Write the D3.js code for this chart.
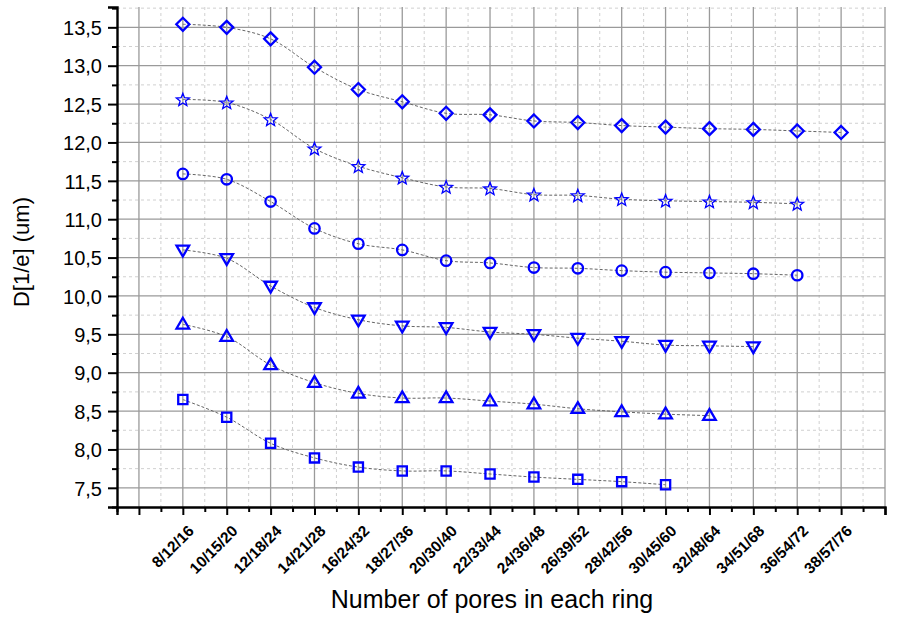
<!DOCTYPE html>
<html><head><meta charset="utf-8">
<script src="https://cdn.jsdelivr.net/npm/d3@7"></script>
<style>body{margin:0;background:#fff}svg{display:block}</style>
</head><body><svg id="c" width="900" height="619"></svg>
<script>
const categories = ["8/12/16","10/15/20","12/18/24","14/21/28","16/24/32","18/27/36","20/30/40","22/33/44","24/36/48","26/39/52","28/42/56","30/45/60","32/48/64","34/51/68","36/54/72","38/57/76"];
const seriesDiamond = [13.54,13.50,13.35,12.98,12.69,12.53,12.38,12.36,12.28,12.26,12.22,12.20,12.18,12.17,12.15,12.13];
const seriesStar    = [12.56,12.52,12.30,11.92,11.69,11.54,11.42,11.40,11.32,11.31,11.26,11.24,11.23,11.22,11.20];
const seriesCircle  = [11.59,11.52,11.23,10.88,10.68,10.60,10.46,10.43,10.37,10.36,10.33,10.31,10.30,10.29,10.27];
const seriesDown    = [10.60,10.49,10.13,9.85,9.69,9.61,9.59,9.53,9.50,9.45,9.41,9.36,9.35,9.34];
const seriesUp      = [9.63,9.47,9.10,8.87,8.73,8.67,8.67,8.63,8.59,8.53,8.49,8.46,8.44];
const seriesSquare  = [8.65,8.42,8.08,7.89,7.77,7.72,7.72,7.68,7.64,7.61,7.58,7.54];
const yTicks = [7.5,8.0,8.5,9.0,9.5,10.0,10.5,11.0,11.5,12.0,12.5,13.0,13.5];

const series = [
  {values: seriesDiamond, sym: "diamond"},
  {values: seriesStar, sym: "star"},
  {values: seriesCircle, sym: "circle"},
  {values: seriesDown, sym: "down"},
  {values: seriesUp, sym: "up"},
  {values: seriesSquare, sym: "square"}
];

const FONT = "Liberation Sans, Arial, sans-serif";
const svg = d3.select("#c");
const L = 117, R = 885, T = 7, B = 507;
const x = d3.scaleLinear().domain([-0.5, 17]).range([L, R]);
const y = d3.scaleLinear().domain([7.25, 13.765]).range([B, T]);

// grid
const g = svg.append("g");
const xMinor = d3.range(-0.5, 17.01, 1);
const xMajor = d3.range(0, 17.01, 1);
const yMinor = d3.range(7.25, 13.76, 0.5);
g.selectAll(".vxm").data(xMinor.slice(1)).join("line")
  .attr("x1", d => x(d)).attr("x2", d => x(d)).attr("y1", T).attr("y2", B)
  .attr("stroke", "#d0d0d0").attr("stroke-width", 1).attr("stroke-dasharray", "3,3");
g.selectAll(".hym").data(yMinor.slice(1)).join("line")
  .attr("x1", L).attr("x2", R).attr("y1", d => y(d)).attr("y2", d => y(d))
  .attr("stroke", "#d0d0d0").attr("stroke-width", 1).attr("stroke-dasharray", "3,3");
g.selectAll(".vx").data(xMajor).join("line")
  .attr("x1", d => x(d)).attr("x2", d => x(d)).attr("y1", T).attr("y2", B)
  .attr("stroke", "#9a9a9a").attr("stroke-width", 1.3);
g.selectAll(".hy").data(yTicks).join("line")
  .attr("x1", L).attr("x2", R).attr("y1", d => y(d)).attr("y2", d => y(d))
  .attr("stroke", "#9a9a9a").attr("stroke-width", 1.3);

// axes
const ya = svg.append("g").attr("transform", `translate(${L},0)`)
  .call(d3.axisLeft(y).tickValues(yTicks).tickSize(9).tickPadding(6)
    .tickFormat(d => d3.format(".1f")(d).replace(".", ",")));
ya.select(".domain").attr("stroke", "#000").attr("stroke-width", 2.4);
ya.selectAll(".tick line").attr("stroke-width", 2);
ya.selectAll("text").attr("font-family", FONT).attr("font-size", 20).attr("fill", "#000")
  .attr("x", -15).attr("dy", "0.36em");
const yMin = svg.append("g").attr("transform", `translate(${L},0)`)
  .call(d3.axisLeft(y).tickValues(yMinor).tickSize(5).tickFormat(""));
yMin.select(".domain").remove();
yMin.selectAll(".tick line").attr("stroke-width", 2);

const xa = svg.append("g").attr("transform", `translate(0,${B})`)
  .call(d3.axisBottom(x).tickValues(xMajor).tickSize(8).tickFormat(""));
xa.select(".domain").attr("stroke", "#000").attr("stroke-width", 2.4);
xa.selectAll(".tick line").attr("stroke-width", 2);
const xMin = svg.append("g").attr("transform", `translate(0,${B})`)
  .call(d3.axisBottom(x).tickValues(xMinor).tickSize(5).tickFormat(""));
xMin.select(".domain").remove();
xMin.selectAll(".tick line").attr("stroke-width", 2);

// x tick labels rotated
svg.append("g").selectAll("text").data(categories).join("text")
  .attr("transform", (d, i) => `translate(${x(i + 1) + 12},${B + 25}) rotate(-45)`)
  .attr("text-anchor", "end")
  .attr("font-family", FONT)
  .attr("font-size", 15.5).attr("font-weight", "bold")
  .text(d => d);

// titles
svg.append("text").attr("x", 492).attr("y", 608).attr("text-anchor", "middle")
  .attr("font-family", FONT).attr("font-size", 25)
  .text("Number of pores in each ring");
svg.append("text").attr("transform", `translate(29,252) rotate(-90)`).attr("text-anchor", "middle")
  .attr("font-family", FONT).attr("font-size", 22)
  .text("D[1/e] (um)");

// lines
const line = d3.line().x((d, i) => x(i + 1)).y(d => y(d)).curve(d3.curveCatmullRom.alpha(0.5));
series.forEach(s => {
  svg.append("path").attr("d", line(s.values)).attr("fill", "none")
    .attr("stroke", "#666").attr("stroke-width", 1).attr("stroke-dasharray", "3,2");
});

// marker shapes (relative to centre)
function poly(pts) { return "M" + pts.map(p => p[0].toFixed(2) + "," + p[1].toFixed(2)).join("L") + "Z"; }
function markerPath(sym) {
  if (sym === "diamond") { const r = 6.5; return poly([[0,-r],[r,0],[0,r],[-r,0]]); }
  if (sym === "square") { const h = 4.6; return poly([[-h,-h],[h,-h],[h,h],[-h,h]]); }
  if (sym === "circle") { return d3.arc()({innerRadius: 0, outerRadius: 5.2, startAngle: 0, endAngle: 2 * Math.PI}); }
  if (sym === "up") { const w = 6.3; return poly([[0,-6.6],[w,4.2],[-w,4.2]]); }
  if (sym === "down") { const w = 6.3; return poly([[0,6.6],[w,-4.2],[-w,-4.2]]); }
  if (sym === "star") {
    const pts = [];
    for (let k = 0; k < 10; k++) {
      const r = k % 2 === 0 ? 6.8 : 2.9;
      const a = -Math.PI / 2 + k * Math.PI / 5;
      pts.push([r * Math.cos(a), r * Math.sin(a) + 0.6]);
    }
    return poly(pts);
  }
}
series.forEach(s => {
  svg.append("g").selectAll("path").data(s.values).join("path")
    .attr("transform", (d, i) => `translate(${x(i + 1)},${y(d)})`)
    .attr("d", markerPath(s.sym))
    .attr("fill", "none").attr("stroke", "#0000ff")
    .attr("stroke-width", s.sym === "star" ? 1.3 : 2.3);
});
</script></body></html>
